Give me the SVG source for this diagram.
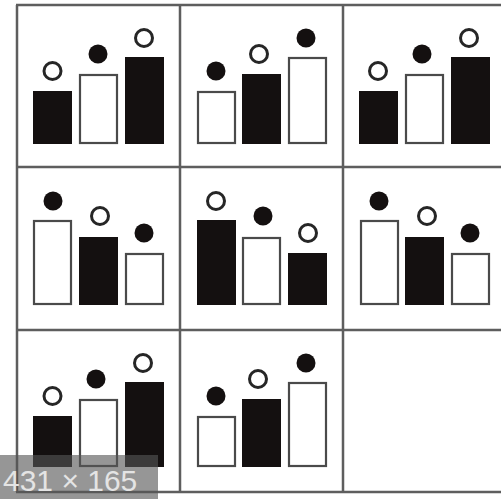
<svg xmlns="http://www.w3.org/2000/svg" width="501" height="499" viewBox="0 0 501 499">
<style>
.bk{fill:#141010}
.wh{fill:#fff;stroke:#4a4a4a;stroke-width:2.2}
.ch{fill:#fff;stroke:#262626;stroke-width:3}
.cb{fill:#141010}
.grid line{stroke:#5e5e5e;stroke-width:2.5}
</style>
<rect width="501" height="499" fill="#fff"/>
<g class="grid" id="connectors">
<line x1="17" y1="5" x2="17" y2="492"/>
<line x1="180" y1="5" x2="180" y2="492"/>
<line x1="343" y1="5" x2="343" y2="492"/>
<line x1="16" y1="5" x2="501" y2="5"/>
<line x1="16" y1="167" x2="501" y2="167"/>
<line x1="16" y1="330" x2="501" y2="330"/>
<line x1="16" y1="492" x2="501" y2="492"/>
</g>
<!-- Row 1 -->
<g id="c11">
<rect class="bk" x="33" y="91" width="39" height="53"/><circle class="ch" cx="52.5" cy="71" r="8.5"/>
<rect class="wh" x="80" y="75" width="37" height="68"/><circle class="cb" cx="98" cy="54" r="9.5"/>
<rect class="bk" x="125" y="57" width="39" height="87"/><circle class="ch" cx="144" cy="38" r="8.5"/>
</g>
<g id="c12">
<rect class="wh" x="198" y="92" width="37" height="51"/><circle class="cb" cx="216" cy="71" r="9.5"/>
<rect class="bk" x="242" y="74" width="39" height="70"/><circle class="ch" cx="259" cy="54" r="8.5"/>
<rect class="wh" x="289" y="58" width="37" height="85"/><circle class="cb" cx="306" cy="38" r="9.5"/>
</g>
<g id="c13">
<rect class="bk" x="359" y="91" width="39" height="53"/><circle class="ch" cx="378" cy="71" r="8.5"/>
<rect class="wh" x="406" y="75" width="37" height="68"/><circle class="cb" cx="422" cy="54" r="9.5"/>
<rect class="bk" x="451" y="57" width="39" height="87"/><circle class="ch" cx="469" cy="38" r="8.5"/>
</g>
<!-- Row 2 -->
<g id="c21">
<rect class="wh" x="34" y="221" width="37" height="83"/><circle class="cb" cx="53" cy="201" r="9.5"/>
<rect class="bk" x="79" y="237" width="39" height="68"/><circle class="ch" cx="100" cy="216" r="8.5"/>
<rect class="wh" x="126" y="254" width="37" height="50"/><circle class="cb" cx="144" cy="233" r="9.5"/>
</g>
<g id="c22">
<rect class="bk" x="197" y="220" width="39" height="85"/><circle class="ch" cx="216" cy="201" r="8.5"/>
<rect class="wh" x="243" y="238" width="37" height="66"/><circle class="cb" cx="263" cy="216" r="9.5"/>
<rect class="bk" x="288" y="253" width="39" height="52"/><circle class="ch" cx="308" cy="233" r="8.5"/>
</g>
<g id="c23">
<rect class="wh" x="361" y="221" width="37" height="83"/><circle class="cb" cx="379" cy="201" r="9.5"/>
<rect class="bk" x="405" y="237" width="39" height="68"/><circle class="ch" cx="427" cy="216" r="8.5"/>
<rect class="wh" x="452" y="254" width="37" height="50"/><circle class="cb" cx="470" cy="233" r="9.5"/>
</g>
<!-- Row 3 -->
<g id="c31">
<rect class="bk" x="33" y="416" width="39" height="51"/><circle class="ch" cx="52.5" cy="396" r="8.5"/>
<rect class="wh" x="80" y="400" width="37" height="66"/><circle class="cb" cx="96" cy="379" r="9.5"/>
<rect class="bk" x="125" y="382" width="39" height="85"/><circle class="ch" cx="143" cy="363" r="8.5"/>
</g>
<g id="c32">
<rect class="wh" x="198" y="417" width="37" height="49"/><circle class="cb" cx="216" cy="396" r="9.5"/>
<rect class="bk" x="242" y="399" width="39" height="68"/><circle class="ch" cx="258" cy="379" r="8.5"/>
<rect class="wh" x="289" y="383" width="37" height="83"/><circle class="cb" cx="306" cy="363" r="9.5"/>
</g>
<g id="overlay">
<rect x="0" y="455" width="158" height="44" fill="#555" fill-opacity="0.62"/>
<text x="3" y="491" font-family="Liberation Sans, Arial, sans-serif" font-size="30" fill="#e4e4e4">431 × 165</text>
</g>
</svg>
